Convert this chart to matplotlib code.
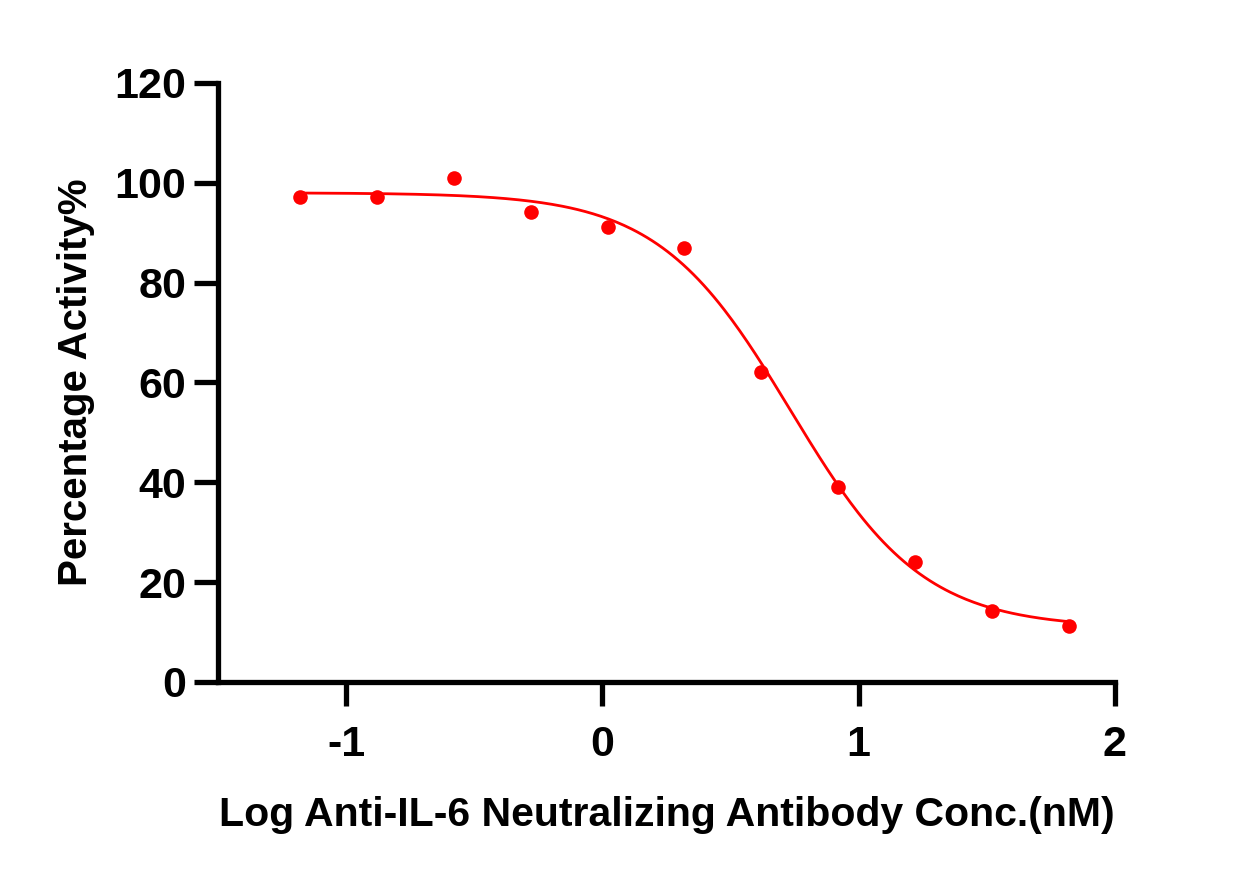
import numpy as np
import matplotlib.pyplot as plt

# measured points
log_conc = [-1.18, -0.88, -0.58, -0.28, 0.02, 0.32, 0.62, 0.92, 1.22, 1.52, 1.82]
activity = [97.2, 97.1, 101.0, 94.1, 91.1, 87.0, 62.0, 39.0, 24.0, 14.2, 11.2]

# 4PL fit parameters
top = 98.0
bottom = 10.8
log_ec50 = 0.734
hill = 1.68

plt.rcParams['font.family'] = ['Liberation Sans', 'DejaVu Sans']
plt.rcParams['font.weight'] = 'bold'

fig = plt.figure(figsize=(12.59, 8.76), dpi=100)
ax = fig.add_axes([0.1732, 0.2215, 0.7124, 0.6838])

xs = np.linspace(min(log_conc), max(log_conc), 300)
ys = bottom + (top - bottom) / (1 + 10 ** ((xs - log_ec50) * hill))
ax.plot(xs, ys, color='#ff0000', lw=2, zorder=2)
ax.plot(log_conc, activity, 'o', color='#ff0000', ms=10.5, mec='none', zorder=3)

ax.set_xlim(-1.5, 2)
ax.set_ylim(0, 120)
ax.set_xticks([-1, 0, 1, 2])
ax.set_xticklabels(['-1', '0', '1', '2'])
ax.set_yticks(range(0, 121, 20))

for s in ['top', 'right']:
    ax.spines[s].set_visible(False)
for s in ['left', 'bottom']:
    ax.spines[s].set_linewidth(3.8)
    ax.spines[s].set_capstyle('projecting')
ax.tick_params(width=3.8, length=17, labelsize=31)
ax.tick_params(axis='x', pad=14)
ax.tick_params(axis='y', pad=6)

ax.set_xlabel('Log Anti-IL-6 Neutralizing Antibody Conc.(nM)', fontsize=29.5, fontweight='bold', labelpad=22)
ax.set_ylabel('Percentage Activity%', fontsize=29, fontweight='bold', labelpad=14)

fig.savefig('out.png', dpi=100)
